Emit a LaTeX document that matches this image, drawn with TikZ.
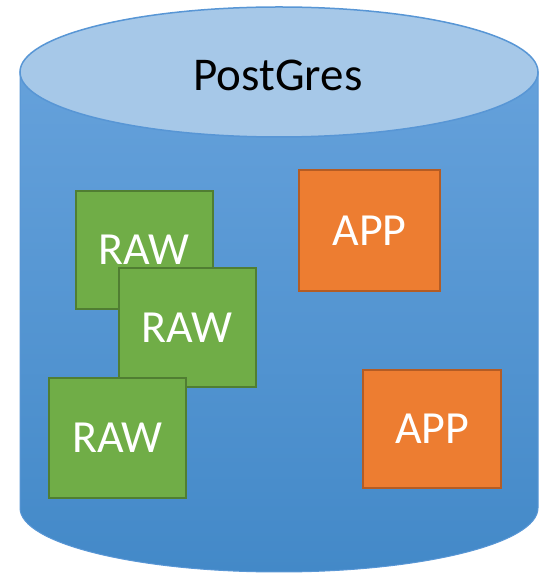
\documentclass[tikz,border=0pt]{standalone}
\usepackage{fontspec}
\setmainfont{Carlito}
\usetikzlibrary{shapes.geometric}
\definecolor{bodytop}{RGB}{101,161,219}
\definecolor{bodybot}{RGB}{67,137,200}
\definecolor{cylline}{RGB}{88,150,213}
\definecolor{lidfill}{RGB}{166,200,232}
\definecolor{rawfill}{RGB}{112,173,71}
\definecolor{rawline}{RGB}{80,126,50}
\definecolor{appfill}{RGB}{237,125,49}
\definecolor{appline}{RGB}{180,92,36}
\tikzset{
  rawbox/.style={draw=rawline, fill=rawfill, line width=2pt, inner sep=0pt,
    text=white, font=\fontsize{46}{50}\selectfont},
  appbox/.style={draw=appline, fill=appfill, line width=2pt, inner sep=0pt,
    text=white, font=\fontsize{46}{50}\selectfont},
}
\begin{document}
\begin{tikzpicture}[x=1pt,y=1pt]
\useasboundingbox (0,0) rectangle (539,573);
% cylinder body
\path[top color=bodytop, bottom color=bodybot, draw=cylline, line width=1pt]
  (20,501) -- (20,65) arc[start angle=180, end angle=360, x radius=259, y radius=64]
  -- (538,501) -- cycle;
% lid
\node[ellipse, minimum width=518pt, minimum height=130pt, inner sep=0pt,
  draw=cylline, line width=1.5pt, fill=lidfill] (lid) at (279,501) {};
\node[font=\fontsize{47}{50}\selectfont, text=black] (title) at (278,498) {PostGres};
% boxes
\node[rawbox, minimum width=137pt, minimum height=118pt] (raw1) at (144.2,323) {RAW};
\node[rawbox, minimum width=137pt, minimum height=118.7pt] (raw2) at (187.2,245.6) {RAW};
\node[rawbox, minimum width=137.3pt, minimum height=120pt] (raw3) at (117.4,135.3) {RAW};
\node[appbox, minimum width=140.4pt, minimum height=120.7pt] (app1) at (369.5,342.7) {APP};
\node[appbox, minimum width=138pt, minimum height=117.7pt] (app2) at (432.3,144.2) {APP};
\end{tikzpicture}
\end{document}
